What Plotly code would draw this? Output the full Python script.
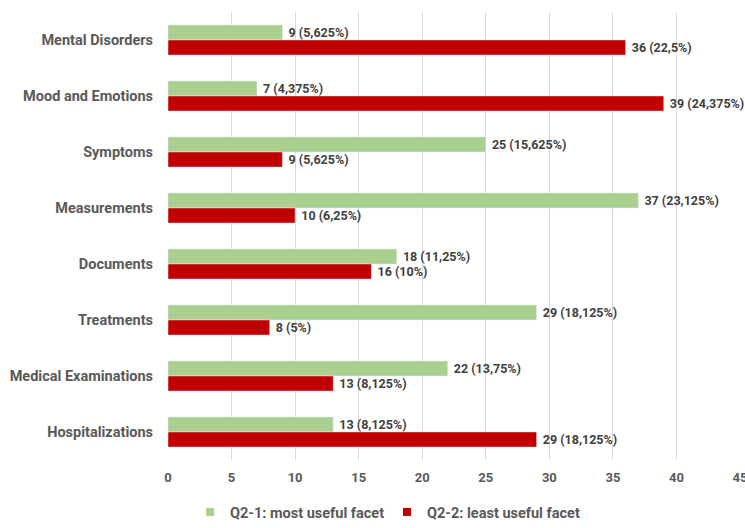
import plotly.graph_objects as go

categories = ["Mental Disorders", "Mood and Emotions", "Symptoms", "Measurements",
              "Documents", "Treatments", "Medical Examinations", "Hospitalizations"]
most_useful = [9, 7, 25, 37, 18, 29, 22, 13]
least_useful = [36, 39, 9, 10, 16, 8, 13, 29]
respondents = 160
x_ticks = [0, 5, 10, 15, 20, 25, 30, 35, 40, 45]

GREEN = "#A9D08E"
RED = "#C00000"
FONT = "Roboto"
TXT = "#404040"
CAT = "#595959"


def label(v):
    pct = format(v * 100 / respondents, ".3f").rstrip("0").rstrip(".").replace(".", ",")
    return f"\u00a0{v} ({pct}%)"


fig = go.Figure()
for name, vals, color in [("Q2-1: most useful facet", most_useful, GREEN),
                          ("Q2-2: least useful facet", least_useful, RED)]:
    fig.add_trace(go.Bar(
        y=categories, x=vals, orientation="h", name=name, marker_color=color,
        text=[label(v) for v in vals], textposition="outside",
        textfont=dict(family=FONT, size=12.5, color=TXT, weight=700),
        constraintext="none", cliponaxis=False, showlegend=False,
    ))
    # legend entry with a small square swatch
    fig.add_trace(go.Scatter(
        x=[None], y=[None], mode="markers", name=name,
        marker=dict(symbol="square", size=8, color=color), showlegend=True,
    ))

fig.update_layout(
    width=745, height=528,
    margin=dict(l=168, r=5, t=12, b=68, autoexpand=False),
    barmode="group", bargap=0.46, bargroupgap=0,
    plot_bgcolor="white", paper_bgcolor="white",
    font=dict(family=FONT, color=TXT, size=13, weight=700),
    xaxis=dict(range=[0, 45], tickvals=x_ticks, ticklabeloverflow="allow", automargin=False,
               showgrid=True, gridcolor="#D9D9D9",
               gridwidth=1, zeroline=False, showline=False, ticks="",
               tickfont=dict(size=13, color=CAT, weight=700), ticklabelstandoff=8),
    yaxis=dict(autorange="reversed", showgrid=False, zeroline=False, showline=False,
               ticks="", tickfont=dict(size=14.5, color=CAT, weight=700),
               ticklabelstandoff=14, automargin=False),
    legend=dict(orientation="h", xref="container", yref="container",
                x=0.255, y=0, xanchor="left", yanchor="bottom",
                font=dict(size=14.5, color=CAT, weight=700),
                itemwidth=30, entrywidth=152, traceorder="normal"),
)

fig.write_html("out.html")
